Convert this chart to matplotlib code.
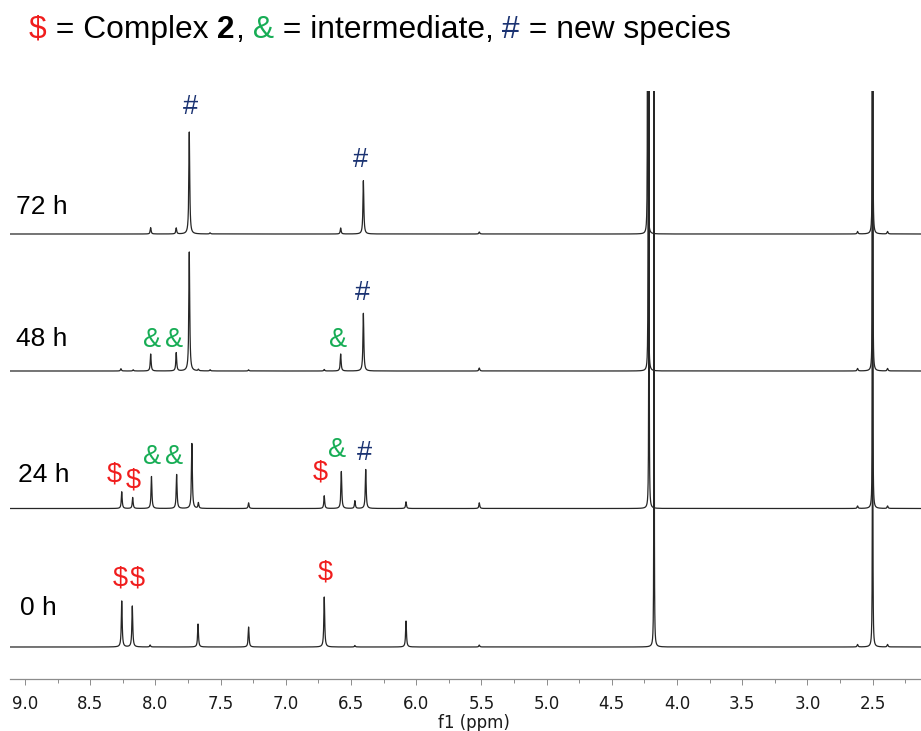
import numpy as np
import matplotlib
matplotlib.use('Agg')
import matplotlib.pyplot as plt
from matplotlib.ticker import MultipleLocator, FormatStrFormatter

RED = '#f01d1d'
GREEN = '#17ad55'
NAVY = '#1b3372'
LINE = '#262626'

# 1H peak lists (ppm, height) for each time point
times = ['0 h', '24 h', '48 h', '72 h']

ppm_0h = [8.258, 8.177, 8.040, 7.673, 7.285, 6.705, 6.470, 6.078, 5.516, 4.176, 2.615, 2.500, 2.385]
int_0h = [46, 41, 2, 23, 20, 50, 1.5, 26, 2, 800, 2.5, 800, 2.5]

ppm_24h = [8.258, 8.174, 8.030, 7.837, 7.720, 7.670, 7.285, 6.705, 6.574, 6.470, 6.387, 6.078,
           5.516, 4.215, 2.615, 2.500, 2.385]
int_24h = [16.7, 11, 32, 34, 65, 5.7, 5.7, 12.7, 37, 7.7, 39, 6.7, 5.7, 800, 2.5, 800, 2.5]

ppm_48h = [8.264, 8.170, 8.036, 7.840, 7.740, 7.670, 7.580, 7.285, 6.705, 6.579, 6.405, 5.516,
           4.220, 2.615, 2.500, 2.385]
int_48h = [2.3, 1.2, 17, 18.3, 119, 1.5, 1.2, 1.2, 1.5, 17, 57.7, 3, 800, 2.5, 800, 2.5]

ppm_72h = [8.036, 7.840, 7.740, 7.580, 6.579, 6.405, 5.516, 4.225, 2.615, 2.500, 2.385]
int_72h = [6.3, 6, 102, 1.2, 6, 53.3, 2, 800, 2.5, 800, 2.5]

peak_ppm = [ppm_0h, ppm_24h, ppm_48h, ppm_72h]
peak_int = [int_0h, int_24h, int_48h, int_72h]

# assignment marks: (symbol, ppm, height above baseline)
marks_0h = [('$', 8.266, 62), ('$', 8.139, 62), ('$', 6.694, 68)]
marks_24h = [('$', 8.315, 27.5), ('$', 8.170, 20.5), ('&', 8.028, 44.5), ('&', 7.857, 44.5),
             ('$', 6.738, 28.5), ('&', 6.610, 51.5), ('#', 6.400, 48.5)]
marks_48h = [('&', 8.028, 24), ('&', 7.857, 24), ('&', 6.600, 24), ('#', 6.410, 71)]
marks_72h = [('#', 7.729, 120), ('#', 6.431, 67)]
marks = [marks_0h, marks_24h, marks_48h, marks_72h]
mark_color = {'$': RED, '&': GREEN, '#': NAVY}

offsets = [32, 170.5, 308, 445]
label_rise = [32, 26.5, 25, 20]
label_x = [9.038, 9.054, 9.069, 9.069]


def lorentz(x, x0, h, hw):
    return h * hw ** 2 / ((x - x0) ** 2 + hw ** 2)


x = np.arange(2.10, 9.15, 0.0003)

fig = plt.figure(figsize=(9.21, 7.31), dpi=100)
ax = fig.add_axes([10 / 921, 52 / 731, 911 / 921, 588 / 731])
ax.set_facecolor('none')

for i, t in enumerate(times):
    y = np.zeros_like(x)
    for p, h in zip(peak_ppm[i], peak_int[i]):
        hw = 0.0012 if h > 200 else 0.004
        y += lorentz(x, p, h, hw)
    ax.plot(x, y + offsets[i], color=LINE, lw=0.9)
    ax.text(label_x[i], offsets[i] + label_rise[i], t, fontsize=19, family='Liberation Sans',
            ha='left', va='baseline', color='black')
    for sym, p, rise in marks[i]:
        ax.text(p, offsets[i] + rise, sym, fontsize=19.5, family='Liberation Sans',
                ha='center', va='baseline', color=mark_color[sym])

ax.set_xlim(9.115, 2.129)
ax.set_ylim(0, 588)
for side in ['top', 'left', 'right']:
    ax.spines[side].set_visible(False)
ax.spines['bottom'].set_color('#8c8c8c')
ax.spines['bottom'].set_linewidth(0.9)
ax.set_yticks([])
ax.xaxis.set_major_locator(MultipleLocator(0.5))
ax.xaxis.set_minor_locator(MultipleLocator(0.25))
ax.xaxis.set_major_formatter(FormatStrFormatter('%.1f'))
ax.tick_params(axis='x', which='major', length=4.3, width=0.7, color='#8c8c8c',
               pad=7.5, labelsize=12, labelcolor='#1a1a1a')
ax.tick_params(axis='x', which='minor', length=2.7, width=0.7, color='#8c8c8c')

fig.text(474 / 921, 3 / 731, 'f1 (ppm)', fontsize=12, ha='center', va='baseline', color='#1a1a1a')

# title built from coloured pieces laid end to end
pieces = [('$', RED, 'normal'), (' = Complex', 'black', 'normal'), (' 2', 'black', 'bold'),
          (',', 'black', 'normal'), (' &', GREEN, 'normal'), (' = intermediate,', 'black', 'normal'),
          (' #', NAVY, 'normal'), (' = new species', 'black', 'normal')]
renderer = fig.canvas.get_renderer()
tx = 29
for s, c, w in pieces:
    t = fig.text(tx / 921, (731 - 38) / 731, s, fontsize=22.9, family='Liberation Sans',
                 color=c, weight=w, ha='left', va='baseline')
    bb = t.get_window_extent(renderer)
    tx = bb.x1

fig.savefig('out.png', dpi=100)
